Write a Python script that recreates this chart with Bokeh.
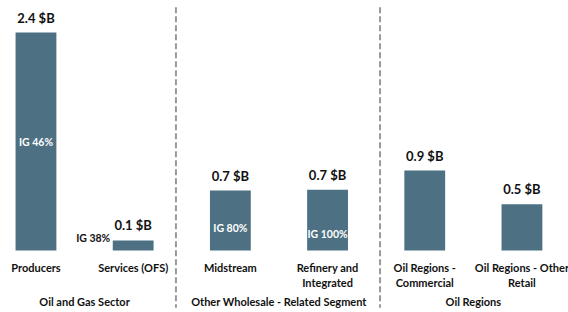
from bokeh.plotting import figure
from bokeh.models import ColumnDataSource, Range1d
from bokeh.core.properties import value
from bokeh.embed import file_html
from bokeh.resources import INLINE

categories = ["Producers", "Services (OFS)", "Midstream", "Refinery and\nIntegrated",
              "Oil Regions -\nCommercial", "Oil Regions - Other\nRetail"]
values = [2.4, 0.11, 0.66, 0.67, 0.88, 0.51]
value_labels = ["2.4 $B", "0.1 $B", "0.7 $B", "0.7 $B", "0.9 $B", "0.5 $B"]
ig_labels = ["IG 46%", "IG 38%", "IG 80%", "IG 100%"]
groups = ["Oil and Gas Sector", "Other Wholesale - Related Segment", "Oil Regions"]
group_members = [[0, 1], [2, 3], [4, 5]]

FONT = "Lato"
BAR = "#4D7083"

p = figure(width=568, height=312, output_backend="svg", toolbar_location=None,
           x_range=Range1d(-0.365, 5.479), y_range=Range1d(-0.683, 2.753),
           min_border=0)
p.axis.visible = False
p.grid.visible = False
p.outline_line_color = None
p.background_fill_color = "white"

idx = list(range(len(categories)))
src = ColumnDataSource(dict(x=idx, top=values, lab=value_labels, cat=categories))
p.vbar(x="x", top="top", bottom=0, width=0.42, source=src, fill_color=BAR, line_color=None)

p.text(x="x", y="top", text="lab", source=src, text_align="center", text_baseline="middle",
       y_offset=-15, text_font=value(FONT), text_font_style="bold", text_font_size="13px",
       text_color="#111111")

p.text(x="x", y=0, text="cat", source=src, text_align="center", text_baseline="top",
       y_offset=11, text_font=value(FONT), text_font_style="bold", text_font_size="11px",
       text_color="#111111", text_line_height=1.1)

# IG labels (styling: pixel offsets above baseline, colours, x shifts)
ig_up = [108, 12, 22, 16]
ig_dx = [0, -40, 0, 0]
ig_col = ["white", "#111111", "white", "white"]
ig_src = ColumnDataSource(dict(x=idx[:4], y=[0] * 4, t=ig_labels,
                               yo=[-u for u in ig_up], xo=ig_dx, c=ig_col))
p.text(x="x", y="y", text="t", source=ig_src, x_offset="xo", y_offset="yo",
       text_align="center", text_baseline="middle", text_color="c",
       text_font=value(FONT), text_font_style="bold", text_font_size="10.5px")

gx = [sum(m) / len(m) for m in group_members]
gsrc = ColumnDataSource(dict(x=gx, y=[0] * 3, t=groups))
p.text(x="x", y="y", text="t", source=gsrc, text_align="center", text_baseline="middle",
       y_offset=51, text_font=value(FONT), text_font_style="bold", text_font_size="11px",
       text_color="#111111")

sep_x = [1.44, 3.54]
p.segment(x0=sep_x, x1=sep_x, y0=[2.68] * 2, y1=[-0.63] * 2,
          line_color="#999999", line_width=2, line_dash="6 3")

open("out.html", "w").write(file_html(p, INLINE))
